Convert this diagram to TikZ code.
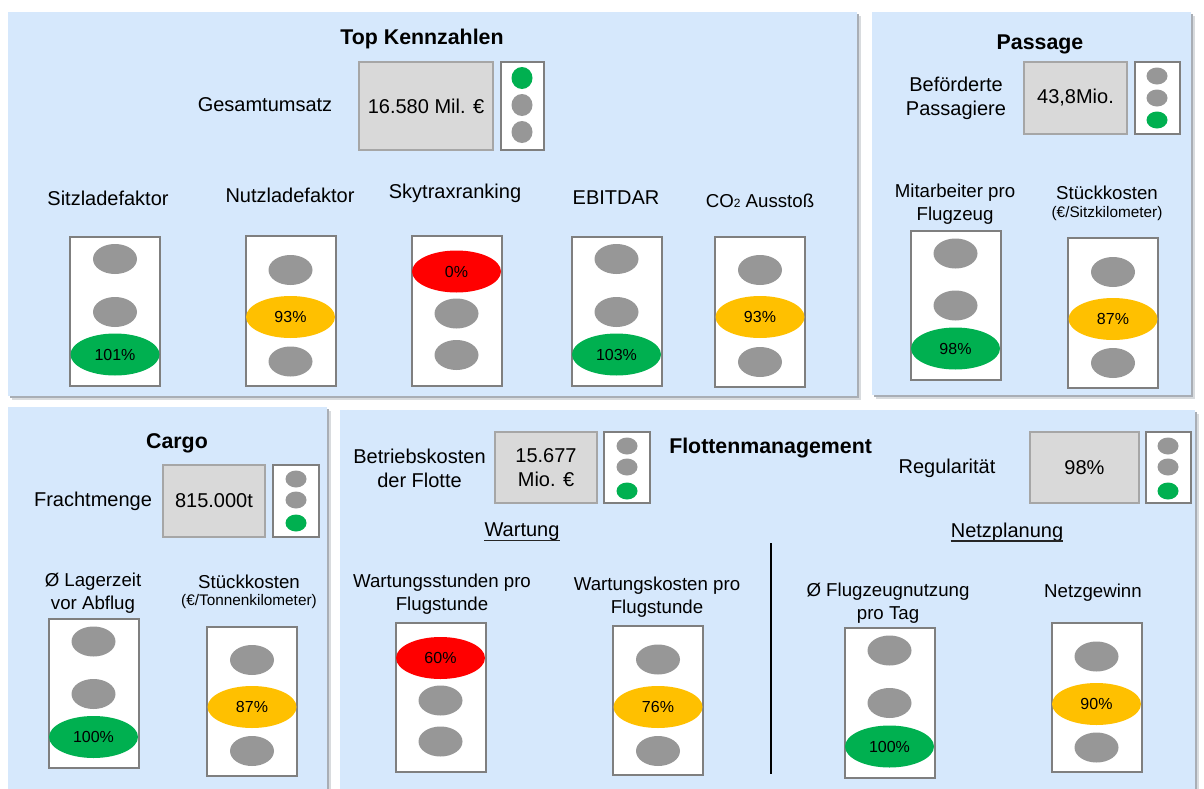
\documentclass[tikz,border=0pt]{standalone}
\usepackage{fontspec}
\setmainfont{Liberation Sans}
\usetikzlibrary{shapes.geometric}

\definecolor{panelfill}{HTML}{D6E8FC}
\definecolor{panelshade}{HTML}{A9AEB5}
\definecolor{lampgray}{HTML}{979797}
\definecolor{lampgreen}{HTML}{00B050}
\definecolor{lampyellow}{HTML}{FFC000}
\definecolor{lampred}{HTML}{FF0000}
\definecolor{framegray}{HTML}{7F7F7F}
\definecolor{valuefill}{HTML}{D9D9D9}
\definecolor{valueframe}{HTML}{A6A6A6}

\tikzset{
  housing/.style={draw=framegray, fill=white, line width=1.5pt, inner sep=0pt},
  bighousing/.style={housing, minimum width=67.5pt, minimum height=112pt},
  smallhousing/.style={housing, minimum width=34pt, minimum height=53.5pt},
  valuebox/.style={draw=valueframe, fill=valuefill, line width=1.5pt, inner sep=0pt,
    align=center, font=\fontsize{15}{18}\selectfont},
  lamp/.style={ellipse, inner sep=0pt, minimum width=33pt, minimum height=22.5pt, fill=lampgray},
  biglamp/.style={ellipse, inner sep=0pt, minimum width=66.75pt, minimum height=31.5pt,
    font=\fontsize{12}{14}\selectfont},
  dotlamp/.style={ellipse, inner sep=0pt, minimum width=15.75pt, minimum height=12.75pt, fill=lampgray},
  headline/.style={font=\fontsize{16}{19}\selectfont\bfseries, inner sep=0pt},
  lbl/.style={font=\fontsize{15}{18}\selectfont, align=center, inner sep=0pt},
  sublbl/.style={font=\fontsize{14}{17.25}\selectfont, align=center, inner sep=0pt},
  unitlbl/.style={font=\fontsize{11.5}{13}\selectfont, inner sep=0pt},
  divider/.style={draw=black, line width=1.5pt},
  underlining/.style={draw=black!85, line width=1.2pt},
}

\begin{document}
\begin{tikzpicture}[x=0.75pt, y=-0.75pt]
\useasboundingbox (0,0) rectangle (1204,789);

% ---------- panels with a soft drop shadow ----------
\foreach \xa/\ya/\xb/\yb in {8/12/857/396, 872/12/1191/395, 8/407/327/789, 340/410/1195/789} {
  \fill[panelshade!45] (\xa+4,\ya+4) rectangle (\xb+4,\yb+4);
  \fill[panelshade] (\xa+2,\ya+2) rectangle (\xb+2,\yb+2);
  \fill[panelfill] (\xa,\ya) rectangle (\xb,\yb);
}

% ================= Top Kennzahlen =================
\node[headline] (top-title) at (422,39) {Top Kennzahlen};
\node[lbl] (umsatz-lbl) at (265,105) {Gesamtumsatz};
\node[valuebox, minimum width=100.5pt, minimum height=66pt] (umsatz-val) at (426,106) {16.580 Mil. €};
\node[housing, minimum width=32.5pt, minimum height=66pt] (umsatz-light) at (522.5,106) {};
\node[dotlamp, fill=lampgreen, minimum height=16.5pt] (umsatz-l1) at (522,78) {};
\node[dotlamp, minimum height=16.5pt] (umsatz-l2) at (522,105) {};
\node[dotlamp, minimum height=16.5pt] (umsatz-l3) at (522,132) {};

\node[lbl] (sitz-lbl) at (108,198) {Sitzladefaktor};
\node[lbl] (nutz-lbl) at (290,195) {Nutzladefaktor};
\node[lbl] (sky-lbl) at (455,193) {Skytraxranking};
\node[lbl] (ebit-lbl) at (616,198) {EBITDAR};
\node[sublbl] (co2-lbl) at (760,201) {CO{\fontsize{9}{10}\selectfont 2} Ausstoß};

\node[bighousing] (sitz-box) at (115,311.5) {};
\node[lamp] (sitz-1) at (115,259) {};
\node[lamp] (sitz-2) at (115,312) {};
\node[biglamp, fill=lampgreen] (sitz-3) at (115,354.5) {101\%};

\node[bighousing] (nutz-box) at (290.5,311) {};
\node[lamp] (nutz-1) at (290.5,270) {};
\node[biglamp, fill=lampyellow] (nutz-2) at (290.5,317) {93\%};
\node[lamp] (nutz-3) at (290.5,361.5) {};

\node[bighousing] (sky-box) at (456.5,311) {};
\node[biglamp, fill=lampred] (sky-1) at (456.5,271.5) {0\%};
\node[lamp] (sky-2) at (456.5,313.5) {};
\node[lamp] (sky-3) at (456.5,355) {};

\node[bighousing] (ebit-box) at (616.5,311.5) {};
\node[lamp] (ebit-1) at (616.5,259) {};
\node[lamp] (ebit-2) at (616.5,312) {};
\node[biglamp, fill=lampgreen] (ebit-3) at (616.5,354.5) {103\%};

\node[bighousing] (co2-box) at (760,312) {};
\node[lamp] (co2-1) at (760,270) {};
\node[biglamp, fill=lampyellow] (co2-2) at (760,317) {93\%};
\node[lamp] (co2-3) at (760,362) {};

% ================= Passage =================
\node[headline] (pax-title) at (1040,44) {Passage};
\node[lbl] (pax-lbl) at (956,98) {Beförderte\\Passagiere};
\node[valuebox, minimum width=77.25pt, minimum height=54pt] (pax-val) at (1075.5,98) {43,8Mio.};
\node[smallhousing] (pax-light) at (1157.5,98) {};
\node[dotlamp] (pax-l1) at (1157,76) {};
\node[dotlamp] (pax-l2) at (1157,98) {};
\node[dotlamp, fill=lampgreen] (pax-l3) at (1157,120) {};

\node[sublbl] (staff-lbl) at (955,204.5) {Mitarbeiter pro\\Flugzeug};
\node[sublbl] (pcost-lbl) at (1107,193) {Stückkosten};
\node[unitlbl] (pcost-unit) at (1107,214) {(€/Sitzkilometer)};

\node[bighousing] (staff-box) at (955.5,305.5) {};
\node[lamp] (staff-1) at (955.5,253.5) {};
\node[lamp] (staff-2) at (955.5,305.5) {};
\node[biglamp, fill=lampgreen] (staff-3) at (955.5,348.5) {98\%};

\node[bighousing] (pcost-box) at (1113,313) {};
\node[lamp] (pcost-1) at (1113,272) {};
\node[biglamp, fill=lampyellow] (pcost-2) at (1113,319) {87\%};
\node[lamp] (pcost-3) at (1113,363) {};

% ================= Cargo =================
\node[headline] (cargo-title) at (177,443) {Cargo};
\node[lbl] (fracht-lbl) at (93,501) {Frachtmenge};
\node[valuebox, minimum width=76.5pt, minimum height=54pt] (fracht-val) at (214,501) {815.000t};
\node[smallhousing] (fracht-light) at (296,501) {};
\node[dotlamp] (fracht-l1) at (296,479) {};
\node[dotlamp] (fracht-l2) at (296,500) {};
\node[dotlamp, fill=lampgreen] (fracht-l3) at (296,523) {};

\node[sublbl] (lager-lbl) at (93,593) {Ø Lagerzeit\\vor Abflug};
\node[sublbl] (ccost-lbl) at (249,582) {Stückkosten};
\node[unitlbl] (ccost-unit) at (249,602) {(€/Tonnenkilometer)};

\node[bighousing] (lager-box) at (93.5,693.5) {};
\node[lamp] (lager-1) at (93.5,641.5) {};
\node[lamp] (lager-2) at (93.5,694) {};
\node[biglamp, fill=lampgreen] (lager-3) at (93.5,737) {100\%};

\node[bighousing] (ccost-box) at (252,701.5) {};
\node[lamp] (ccost-1) at (252,660) {};
\node[biglamp, fill=lampyellow] (ccost-2) at (252,707) {87\%};
\node[lamp] (ccost-3) at (252,751) {};

% ================= Flottenmanagement =================
\node[lbl] (betrieb-lbl) at (419.5,468) {Betriebskosten\\der Flotte};
\node[valuebox, minimum width=76.5pt, minimum height=53.25pt] (betrieb-val) at (546,467.5) {15.677\\Mio. €};
\node[smallhousing] (betrieb-light) at (627,467.5) {};
\node[dotlamp] (betrieb-l1) at (627,446) {};
\node[dotlamp] (betrieb-l2) at (627,467) {};
\node[dotlamp, fill=lampgreen] (betrieb-l3) at (627,491) {};

\node[headline, anchor=west] (fleet-title) at (669,448) {Flottenmanagement};

\node[lbl] (regul-lbl) at (947,468) {Regularität};
\node[valuebox, minimum width=81.75pt, minimum height=53.25pt] (regul-val) at (1084.5,467.5) {98\%};
\node[smallhousing] (regul-light) at (1168.5,467.5) {};
\node[dotlamp] (regul-l1) at (1168,446) {};
\node[dotlamp] (regul-l2) at (1168,467) {};
\node[dotlamp, fill=lampgreen] (regul-l3) at (1168,491) {};

% section headings, underlined
\node[lbl] (wartung-head) at (522,532) {Wartung};
\draw[underlining] ([yshift=-2.8pt]wartung-head.base west) -- ([yshift=-2.8pt]wartung-head.base east);
\node[lbl] (netz-head) at (1007,532) {Netzplanung};
\draw[underlining] ([yshift=-2.8pt]netz-head.base west) -- ([yshift=-2.8pt]netz-head.base east);

% divider between the two sections
\coordinate (split-top) at (771,543);
\coordinate (split-bot) at (771,774);
\draw[divider] (split-top) -- (split-bot);

\node[sublbl] (wstd-lbl) at (442,594) {Wartungsstunden pro\\Flugstunde};
\node[sublbl] (wkost-lbl) at (657,597) {Wartungskosten pro\\Flugstunde};
\node[sublbl] (nutzung-lbl) at (888,603) {Ø Flugzeugnutzung\\pro Tag};
\node[sublbl] (gewinn-lbl) at (1093,593) {Netzgewinn};

\node[bighousing] (wstd-box) at (440.5,697.5) {};
\node[biglamp, fill=lampred] (wstd-1) at (440.5,658) {60\%};
\node[lamp] (wstd-2) at (440.5,700.5) {};
\node[lamp] (wstd-3) at (440.5,741.5) {};

\node[bighousing] (wkost-box) at (658,700.5) {};
\node[lamp] (wkost-1) at (658,659.5) {};
\node[biglamp, fill=lampyellow] (wkost-2) at (658,707) {76\%};
\node[lamp] (wkost-3) at (658,751) {};

\node[bighousing] (nutzung-box) at (889.5,703) {};
\node[lamp] (nutzung-1) at (889.5,650.5) {};
\node[lamp] (nutzung-2) at (889.5,703) {};
\node[biglamp, fill=lampgreen] (nutzung-3) at (889.5,746.5) {100\%};

\node[bighousing] (gewinn-box) at (1096.5,697.5) {};
\node[lamp] (gewinn-1) at (1096.5,656.5) {};
\node[biglamp, fill=lampyellow] (gewinn-2) at (1096.5,704) {90\%};
\node[lamp] (gewinn-3) at (1096.5,747.5) {};
\end{tikzpicture}
\end{document}
